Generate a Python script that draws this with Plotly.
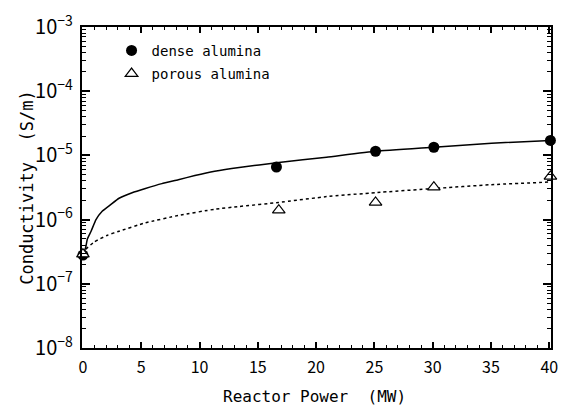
import plotly.graph_objects as go

# Measured data points
dense_x = [0, 16.6, 25.1, 30.1, 40.1]
dense_y = [2.8e-7, 6.6e-6, 1.16e-5, 1.34e-5, 1.71e-5]
porous_x = [0, 16.8, 25.1, 30.1, 40.1]
porous_y = [2.9e-7, 1.40e-6, 1.85e-6, 3.2e-6, 4.7e-6]

# Fitted curves
fit_dense_x = [0, 0.24, 0.38, 0.7, 1.12, 1.65, 2.36, 3.1, 4.22, 5.36, 6.77, 8.18, 9.6, 11.3,
               13.4, 16.8, 20.9, 25.1, 30.1, 35.05, 40.1]
fit_dense_y = [2.8e-7, 3.7e-7, 5.0e-7, 6.6e-7, 1.0e-6, 1.35e-6, 1.7e-6, 2.15e-6, 2.62e-6, 3.05e-6,
               3.63e-6, 4.18e-6, 4.86e-6, 5.67e-6, 6.5e-6, 7.76e-6, 9.4e-6, 1.16e-5, 1.34e-5,
               1.55e-5, 1.71e-5]
fit_porous_x = [0, 0.13, 0.98, 2.1, 3.1, 5.36, 8.18, 11.3, 13.4, 16.8, 20.9, 25.1, 30.1, 35.05, 40.1]
fit_porous_y = [2.9e-7, 3.3e-7, 4.5e-7, 5.7e-7, 6.6e-7, 8.9e-7, 1.16e-6, 1.45e-6, 1.6e-6, 1.85e-6,
                2.28e-6, 2.63e-6, 3.05e-6, 3.5e-6, 3.85e-6]

x_title = "Reactor Power\u00a0 (MW)"
y_title = "Conductivity\u00a0 (S/m)"
names = ["dense alumina", "porous alumina"]

MONO = "DejaVu Sans Mono"
NUM = "Noto Sans CJK JP"

fig = go.Figure()
fig.add_trace(go.Scatter(x=fit_dense_x, y=fit_dense_y, mode="lines", showlegend=False,
                         line=dict(color="black", width=1.5, shape="spline", smoothing=0.4)))
fig.add_trace(go.Scatter(x=fit_porous_x, y=fit_porous_y, mode="lines", showlegend=False,
                         line=dict(color="black", width=1.5, dash="dot", shape="spline", smoothing=0.4)))
fig.add_trace(go.Scatter(x=dense_x, y=dense_y, mode="markers", name=names[0], cliponaxis=False,
                         legendgroup="a",
                         marker=dict(symbol="circle", size=11, color="black", line=dict(width=0))))
fig.add_trace(go.Scatter(x=porous_x, y=porous_y, mode="markers", name=names[1], cliponaxis=False,
                         legendgroup="b",
                         marker=dict(symbol="triangle-up", size=11, color="white",
                                     line=dict(color="black", width=1.2))))

axis_common = dict(showline=True, linecolor="black", linewidth=2, mirror="allticks",
                   ticks="inside", tickcolor="black", tickwidth=1.5, showgrid=False, zeroline=False,
                   tickfont=dict(family=NUM, size=16, color="black"))

fig.update_xaxes(range=[-0.08, 40.15], dtick=5, tick0=0, ticklen=6,
                 minor=dict(dtick=1, ticks="inside", ticklen=3, tickcolor="black", tickwidth=1.2),
                 ticklabelstandoff=4, **axis_common)
fig.update_yaxes(type="log", range=[-8, -3], dtick=1, exponentformat="power", ticklen=8,
                 minor=dict(dtick="D1", ticks="inside", ticklen=4, tickcolor="black", tickwidth=1.2),
                 ticklabelstandoff=4, **axis_common)

fig.add_annotation(text=x_title, xref="paper", yref="paper", x=(318 - 82) / 476,
                   y=-(398 - 348) / 329, showarrow=False, xanchor="center", yanchor="middle",
                   font=dict(family=MONO, size=16, color="black"))
fig.add_annotation(text=y_title, xref="paper", yref="paper", x=(26 - 82) / 476,
                   y=(348 - 184) / 329, showarrow=False, xanchor="center", yanchor="middle",
                   textangle=-90, font=dict(family=MONO, size=17, color="black"))

fig.update_layout(
    width=568, height=410,
    margin=dict(l=82, r=10, t=19, b=62),
    paper_bgcolor="white", plot_bgcolor="white",
    showlegend=True,
    legend=dict(x=(112 - 82) / 476, y=(348 - 27) / 329, xanchor="left", yanchor="top",
                bgcolor="rgba(0,0,0,0)", tracegroupgap=2,
                font=dict(family=MONO, size=14, color="black")),
)

fig.write_html("out.html")
